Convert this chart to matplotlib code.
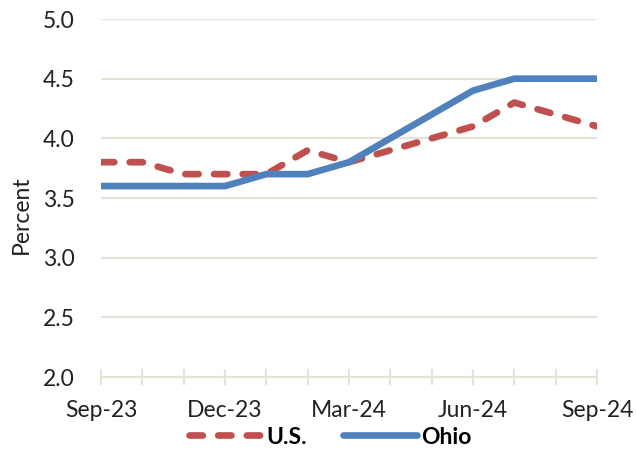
import matplotlib
matplotlib.use("Agg")
import matplotlib.pyplot as plt
from matplotlib.ticker import MultipleLocator

months = ["Sep-23", "Oct-23", "Nov-23", "Dec-23", "Jan-24", "Feb-24", "Mar-24",
          "Apr-24", "May-24", "Jun-24", "Jul-24", "Aug-24", "Sep-24"]
us = [3.8, 3.8, 3.7, 3.7, 3.7, 3.9, 3.8, 3.9, 4.0, 4.1, 4.3, 4.2, 4.1]
ohio = [3.6, 3.6, 3.6, 3.6, 3.7, 3.7, 3.8, 4.0, 4.2, 4.4, 4.5, 4.5, 4.5]
yticks = [2.0, 2.5, 3.0, 3.5, 4.0, 4.5, 5.0]

plt.rcParams['font.family'] = ['Lato', 'DejaVu Sans']

fig = plt.figure(figsize=(6.36, 4.51), dpi=100)
ax = fig.add_axes([101/636, 1-377/451, (597-101)/636, (377-19)/451])

grid_c = "#E6E3D6"
txt_c = "#222222"
fs = 16.5
x = list(range(len(months)))
ax.plot(x, us, color="#C0504D", lw=4.8, dashes=(2.0, 2.3), dash_capstyle="round",
        label="U.S.")
ax.plot(x, ohio, color="#4F81BD", lw=4.8, label="Ohio", solid_capstyle="butt")

ax.set_xlim(0, 12)
ax.set_ylim(2.0, 5.0)
ax.set_yticks(yticks)
ax.set_yticklabels([f"{v:.1f}" for v in yticks])
ax.set_xticks(x[::3])
ax.set_xticklabels(months[::3])
ax.xaxis.set_minor_locator(MultipleLocator(1))

for s in ["top", "right", "left"]:
    ax.spines[s].set_visible(False)
ax.spines["bottom"].set_color(grid_c)
ax.spines["bottom"].set_linewidth(1.5)
ax.yaxis.grid(True, color=grid_c, lw=1.5)
ax.set_axisbelow(True)

ax.tick_params(axis="y", length=0, pad=19, labelsize=fs, colors=txt_c)
ax.tick_params(axis="x", which="both", direction="inout", length=11, width=1.5,
               color=grid_c, pad=11, labelsize=fs, labelcolor=txt_c)

ax.set_ylabel("Percent", fontsize=fs, color=txt_c)
ax.yaxis.set_label_coords((32-101)/496, 0.452)

leg = fig.legend(loc="center", bbox_to_anchor=(330/636, 1-437/451), ncol=2, frameon=False,
                 handlelength=3.2, handletextpad=0.17, columnspacing=1.6,
                 prop={"size": fs, "weight": "bold"})
for h in leg.get_lines():
    h.set_solid_capstyle("round")

fig.savefig("out.png", dpi=100)
